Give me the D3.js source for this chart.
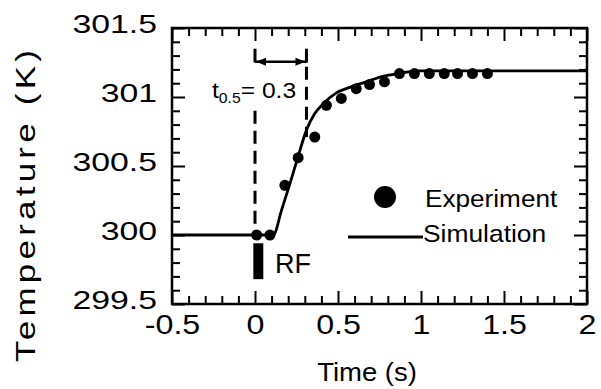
<!DOCTYPE html>
<html>
<head>
<meta charset="utf-8">
<script src="https://cdn.jsdelivr.net/npm/d3@7"></script>
<style>
  body { margin: 0; background: #fff; }
  text { font-family: "Liberation Sans", Arial, Helvetica, sans-serif; fill: #000; }
</style>
</head>
<body>
<script>
// experiment points
const expTime = [0.01, 0.09, 0.18, 0.26, 0.36, 0.43, 0.52, 0.61, 0.69, 0.78, 0.87, 0.96, 1.05, 1.14, 1.22, 1.31, 1.40];
const expTemp = [300.0, 300.0, 300.36, 300.56, 300.71, 300.94, 300.99, 301.06, 301.09, 301.11, 301.17, 301.17, 301.17, 301.17, 301.17, 301.17, 301.17];

// simulation curve
const simTime = [-0.5, 0.11, 0.16, 0.21, 0.26, 0.31, 0.36, 0.41, 0.49, 0.57, 0.67, 0.77, 0.87, 0.97, 2.0];
const simTemp = [300.0, 300.0, 300.18, 300.37, 300.57, 300.76, 300.88, 300.95, 301.03, 301.07, 301.11, 301.15, 301.17, 301.19, 301.19];

const xTicks = [-0.5, 0, 0.5, 1, 1.5, 2];
const yTicks = [299.5, 300, 300.5, 301, 301.5];
const xTickLabels = ["-0.5", "0", "0.5", "1", "1.5", "2"];
const yTickLabels = ["299.5", "300", "300.5", "301", "301.5"];

const width = 601, height = 389;
const plotL = 172, plotR = 587, plotT = 28, plotB = 304;

const svg = d3.select("body").append("svg")
    .attr("width", width)
    .attr("height", height);

const x = d3.scaleLinear().domain([-0.5, 2]).range([plotL, plotR]);
const y = d3.scaleLinear().domain([299.5, 301.5]).range([plotB, plotT]);

const xMinor = d3.range(-5, 21).map(d => d / 10).filter(d => Math.round(d * 10) % 5 !== 0);
const yMinor = d3.range(2995, 3016).map(d => d / 10).filter(d => Math.round(d * 10) % 5 !== 0);

const major = 13, minor = 8;

// tick marks on all four sides, pointing inward
function ticks(axis, vals, size, transform) {
    const g = svg.append("g")
        .attr("transform", transform)
        .call(axis.tickValues(vals).tickSizeInner(-size).tickSizeOuter(0).tickFormat(""));
    g.select(".domain").remove();
    g.selectAll("line").attr("stroke", "#000").attr("stroke-width", 2);
    return g;
}
ticks(d3.axisBottom(x), xMinor, minor, `translate(0,${plotB})`);
ticks(d3.axisTop(x), xMinor, minor, `translate(0,${plotT})`);
ticks(d3.axisLeft(y), yMinor, minor, `translate(${plotL},0)`);
ticks(d3.axisRight(y), yMinor, minor, `translate(${plotR},0)`);
ticks(d3.axisTop(x), xTicks, major, `translate(0,${plotT})`);
ticks(d3.axisRight(y), yTicks, major, `translate(${plotR},0)`);

// bottom axis with labels
const xAxis = svg.append("g")
    .attr("transform", `translate(0,${plotB})`)
    .call(d3.axisBottom(x).tickValues(xTicks).tickSizeInner(-major).tickSizeOuter(0)
        .tickPadding(10).tickFormat((d, i) => xTickLabels[i]));
xAxis.select(".domain").remove();
xAxis.selectAll("line").attr("stroke", "#000").attr("stroke-width", 2);
xAxis.selectAll("text")
    .attr("font-size", 28)
    .attr("font-family", "Liberation Sans, Arial, sans-serif")
    .attr("transform", "scale(1.15,1)");

// left axis with labels
const yAxis = svg.append("g")
    .attr("transform", `translate(${plotL},0)`)
    .call(d3.axisLeft(y).tickValues(yTicks).tickSizeInner(-major).tickSizeOuter(0)
        .tickFormat((d, i) => yTickLabels[i]));
yAxis.select(".domain").remove();
yAxis.selectAll("line").attr("stroke", "#000").attr("stroke-width", 2);
yAxis.selectAll("text")
    .attr("font-size", 26)
    .attr("font-family", "Liberation Sans, Arial, sans-serif")
    .attr("x", -15 / 1.3)
    .attr("y", -4)
    .attr("dy", "0.34em")
    .attr("transform", "scale(1.3,1)");

// frame
svg.append("rect")
    .attr("x", plotL).attr("y", plotT)
    .attr("width", plotR - plotL).attr("height", plotB - plotT)
    .attr("fill", "none").attr("stroke", "#000").attr("stroke-width", 2.5);

// stretched text helper
function label(tx, ty, str, size, sx, rotate) {
    const g = svg.append("g")
        .attr("transform", `translate(${tx},${ty}) rotate(${rotate || 0}) scale(${sx},1)`);
    return g.append("text").attr("font-size", size).text(str);
}

label(367, 381, "Time (s)", 25, 1.1).attr("text-anchor", "middle");
label(35, 206, "Temperature (K)", 28, 1.25, -90)
    .attr("text-anchor", "middle")
    .attr("textLength", 312 / 1.25)
    .attr("lengthAdjust", "spacing");

// simulation line
const line = d3.line()
    .x(d => x(d[0]))
    .y(d => y(d[1]))
    .curve(d3.curveMonotoneX);
svg.append("path")
    .datum(simTime.map((t, i) => [t, simTemp[i]]))
    .attr("d", line)
    .attr("fill", "none")
    .attr("stroke", "#000")
    .attr("stroke-width", 2.8);

// experiment points
svg.selectAll(".pt")
    .data(expTime.map((t, i) => [t, expTemp[i]]))
    .enter().append("circle")
    .attr("class", "pt")
    .attr("cx", d => x(d[0]))
    .attr("cy", d => y(d[1]))
    .attr("r", 5.5)
    .attr("fill", "#000");

// t0.5 annotation
const tHalf = 0.31;
svg.append("line")
    .attr("x1", x(0)).attr("x2", x(0))
    .attr("y1", y(300.9)).attr("y2", y(300))
    .attr("stroke", "#000").attr("stroke-width", 3)
    .attr("stroke-dasharray", "13,7");
svg.append("line")
    .attr("x1", x(tHalf)).attr("x2", x(tHalf))
    .attr("y1", y(301.22)).attr("y2", y(300.71))
    .attr("stroke", "#000").attr("stroke-width", 3)
    .attr("stroke-dasharray", "13,7");
[0, tHalf].forEach(t => {
    svg.append("line")
        .attr("x1", x(t)).attr("x2", x(t))
        .attr("y1", y(301.35)).attr("y2", y(301.25))
        .attr("stroke", "#000").attr("stroke-width", 3);
});
const ay = y(301.255);
svg.append("line")
    .attr("x1", x(0)).attr("x2", x(tHalf))
    .attr("y1", ay).attr("y2", ay)
    .attr("stroke", "#000").attr("stroke-width", 2.5);
svg.append("path")
    .attr("d", `M${x(0) + 1},${ay} l10,-4 l0,8 z M${x(tHalf) - 1},${ay} l-10,-4 l0,8 z`)
    .attr("fill", "#000");

const tl = svg.append("g").attr("transform", "translate(212,98) scale(1.12,1)")
    .append("text").attr("font-size", 22);
tl.append("tspan").text("t");
tl.append("tspan").attr("font-size", 14).attr("dy", 5).text("0.5");
tl.append("tspan").attr("dy", -5).text("= 0.3");

// RF pulse marker
svg.append("rect")
    .attr("x", x(-0.01)).attr("y", y(299.94))
    .attr("width", x(0.05) - x(-0.01)).attr("height", y(299.68) - y(299.94))
    .attr("fill", "#000");
svg.append("text").attr("x", 275).attr("y", 273).attr("font-size", 27).text("RF");

// legend
svg.append("circle").attr("cx", 385).attr("cy", 197).attr("r", 11).attr("fill", "#000");
label(425, 207, "Experiment", 24, 1.09);
svg.append("line")
    .attr("x1", 348).attr("x2", 423).attr("y1", 237).attr("y2", 237)
    .attr("stroke", "#000").attr("stroke-width", 2.8);
label(423, 242, "Simulation", 24, 1.1);
</script>
</body>
</html>
